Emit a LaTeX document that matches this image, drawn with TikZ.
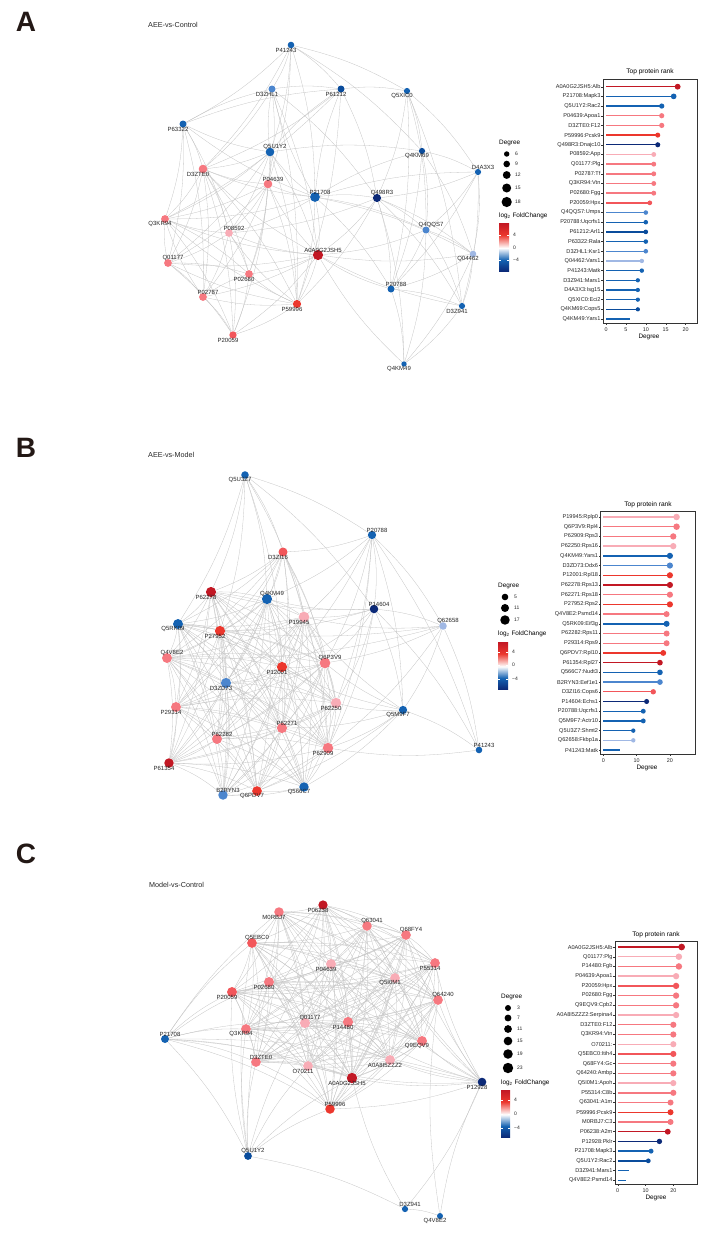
\documentclass[tikz,border=0pt]{standalone}
\usepackage{fontspec}
\setmainfont{Liberation Sans}
\usetikzlibrary{calc, %for label offsets
                backgrounds} %for links under the proteins
\pgfdeclarelayer{front}
\pgfsetlayers{background,main,front}

\definecolor{fcDR}{RGB}{194,24,36}
\definecolor{fcR}{RGB}{236,55,45}
\definecolor{fcRP}{RGB}{242,86,90}
\definecolor{fcP}{RGB}{246,120,128}
\definecolor{fcLP}{RGB}{248,172,182}
\definecolor{fcB}{RGB}{20,98,178}
\definecolor{fcDB}{RGB}{10,76,156}
\definecolor{fcNB}{RGB}{12,42,120}
\definecolor{fcMB}{RGB}{76,134,206}
\definecolor{fcLB}{RGB}{160,184,228}
\definecolor{linkgray}{RGB}{196,196,196}
\definecolor{ink}{RGB}{35,24,21}

% colour bar of log2 FoldChange
\pgfdeclareverticalshading{lfcbar}{100bp}{color(0bp)=(fcNB); color(25bp)=(fcNB); color(36.5bp)=(fcB);
  color(49bp)=(white); color(62.5bp)=(fcR); color(75bp)=(fcDR); color(100bp)=(fcDR)}

\begin{document}
\begin{tikzpicture}[x=1pt, y=1pt,
    prot/.style={circle, inner sep=0pt, draw=none},
    lab/.style={font=\fontsize{6}{7}\selectfont, text=black!85, inner sep=0pt},
    link/.style={draw=linkgray, line width=0.3pt, bend left=8},
    panel/.style={font=\fontsize{28}{28}\selectfont\bfseries, text=ink, inner sep=0pt},
    ptitle/.style={font=\fontsize{7.2}{8}\selectfont, text=black!85, anchor=west, inner sep=0pt},
    rktitle/.style={font=\fontsize{6.6}{7}\selectfont, inner sep=0pt},
    rkbox/.style={draw=black!80, line width=0.5pt},
    stem/.style={line width=1.4pt},
    rklab/.style={font=\fontsize{5.6}{6}\selectfont, text=black!85, anchor=east, inner sep=0pt},
    axlab/.style={font=\fontsize{5.4}{6}\selectfont, text=black!85, inner sep=0pt},
    axtitle/.style={font=\fontsize{6.4}{7}\selectfont, inner sep=0pt},
    lgtitle/.style={font=\fontsize{6.4}{7}\selectfont, anchor=west, inner sep=0pt},
    lgnum/.style={font=\fontsize{5}{6}\selectfont, text=black!85, anchor=west, inner sep=0pt}
    ]
    \useasboundingbox (0,0) rectangle (710,-1247);

    % ===== PANEL A =====
    \node[panel] (pA) at (26,-22) {A};
    \node[ptitle] (tA) at (148,-25) {AEE-vs-Control};

    \foreach \n/\x/\y/\d/\c/\s in {
        A0A0G2JSH5/318/255/18/fcDR/-1, P21708/315/197/17/fcB/-1, Q5U1Y2/270/152/14/fcB/-1,
        P04639/268/184/14/fcP/-1, D3ZTE0/203/169/14/fcP/1, P59996/297/304/13/fcR/1,
        Q498R3/377/198/13/fcNB/-1, P08592/229/233/12/fcLP/-1, Q01177/168/263/12/fcP/-1,
        P02787/203/297/12/fcP/-1, Q3KR94/165/219/12/fcP/1, P02680/249/274/12/fcP/1,
        P20059/233/335/11/fcRP/1, Q4QQS7/426/230/10/fcMB/-1, P20788/391/289/10/fcB/-1,
        P61212/341/89/10/fcDB/1, P63322/183/124/10/fcB/1, D3ZHL1/272/89/10/fcMB/1,
        Q04462/473/254/9/fcLB/1, P41243/291/45/9/fcB/1, D3Z941/462/306/8/fcB/1,
        D4A3X3/478/172/8/fcB/-1, Q5XIC0/407/91/8/fcB/1, Q4KM69/422/151/8/fcDB/1,
        Q4KM49/404/364/6/fcB/1}{
        \pgfmathsetmacro\nd{2*(2.7+(\d-6)*0.2)}
        \node[prot, fill=\c, minimum size=\nd pt] (A-\n) at (\x,-\y) {};
        \begin{pgfonlayer}{front}
        \node[lab] (A-\n-t) at ($(A-\n)+({-5*\s},{-5*\s})$) {\n};
        \end{pgfonlayer}
    }

    \begin{scope}[on background layer]
    \def\coreA{A0A0G2JSH5,P04639,D3ZTE0,P59996,P08592,Q01177,P02787,Q3KR94,P02680,P20059}
    \foreach \u [count=\i] in \coreA {\foreach \v [count=\j] in \coreA {
        \ifnum\j>\i\relax \draw[link] (A-\u) to (A-\v); \fi}}
    \foreach \u/\v in {
        P41243/D3ZHL1, P41243/P61212, P41243/Q5XIC0, P41243/P63322, P41243/Q5U1Y2, P41243/P21708,
        P41243/D3ZTE0, P41243/P04639, P41243/Q4KM69,
        P21708/D3ZHL1, P21708/P61212, P21708/Q5U1Y2, P21708/P63322, P21708/Q498R3, P21708/Q4QQS7,
        P21708/A0A0G2JSH5, P21708/P04639, P21708/P59996, P21708/D3ZTE0, P21708/Q3KR94, P21708/P08592,
        P21708/Q4KM69, P21708/D4A3X3, P21708/P20788, P21708/Q04462,
        Q5U1Y2/D3ZHL1, Q5U1Y2/P61212, Q5U1Y2/P63322, Q5U1Y2/D3ZTE0, Q5U1Y2/P04639, Q5U1Y2/Q3KR94,
        Q5U1Y2/P08592, Q5U1Y2/Q4KM69, Q5U1Y2/Q01177, Q5U1Y2/P02680, Q5U1Y2/A0A0G2JSH5, Q5U1Y2/P59996,
        P63322/D3ZHL1, P63322/D3ZTE0, P63322/Q3KR94, P63322/P02787, P63322/P08592, P63322/P61212,
        P63322/Q01177,
        D3ZHL1/P61212, D3ZHL1/D3ZTE0, D3ZHL1/P04639, D3ZHL1/P59996, D3ZHL1/Q498R3, D3ZHL1/A0A0G2JSH5,
        P61212/Q5XIC0, P61212/D3ZTE0, P61212/Q3KR94, P61212/P59996, P61212/Q498R3,
        Q5XIC0/Q4KM69, Q5XIC0/Q4QQS7, Q5XIC0/Q498R3, Q5XIC0/D4A3X3, Q5XIC0/P20788, Q5XIC0/D3Z941,
        Q4KM69/Q4QQS7, Q4KM69/D4A3X3, Q4KM69/Q04462, Q4KM69/P20788,
        D4A3X3/Q498R3, D4A3X3/Q4QQS7, D4A3X3/Q04462, D4A3X3/D3Z941, D4A3X3/P20788,
        Q498R3/Q4QQS7, Q498R3/Q04462, Q498R3/P20788, Q498R3/D3Z941, Q498R3/Q4KM49,
        Q498R3/A0A0G2JSH5, Q498R3/P59996, Q498R3/P08592,
        Q4QQS7/Q04462, Q4QQS7/P20788, Q4QQS7/D3Z941, Q4QQS7/Q4KM49, Q4QQS7/A0A0G2JSH5,
        Q04462/D3Z941, Q04462/P20788, Q04462/Q4KM49, Q04462/A0A0G2JSH5,
        P20788/D3Z941, P20788/Q4KM49, P20788/A0A0G2JSH5,
        D3Z941/Q4KM49, D3Z941/A0A0G2JSH5, Q4KM49/A0A0G2JSH5}{
        \draw[link] (A-\u) to (A-\v);
    }
    \end{scope}

    % legend A
    \node[lgtitle] (gA) at (499,-143) {Degree};
    \foreach \d/\yy in {6/154, 9/164, 12/175, 15/188, 18/202}{
        \fill (506.7,-\yy) circle ({2.7+(\d-6)*0.2});
        \node[lgnum] at (515,-\yy) {\d};
    }
    \node[lgtitle] (fA) at (499,-216) {log\textsubscript{2} FoldChange};
    \shade[shading=lfcbar] (499,-223) rectangle (509,-271);
    \foreach \v/\yy in {4/235, 0/248, −4/260}{
        \draw[white, line width=0.5pt] (499,-\yy) -- ++(2,0) (509,-\yy) -- ++(-2,0);
        \node[lgnum] at (513,-\yy) {\v};
    }

    % rank A
    \node[rktitle] (rkA) at (650,-72) {Top protein rank};
    \draw[rkbox] (603,-79) rectangle (697,-323.3);
    \foreach \n/\d/\c [count=\i] in {
        A0A0G2JSH5:Alb/18/fcDR, P21708:Mapk3/17/fcB, Q5U1Y2:Rac2/14/fcB, P04639:Apoa1/14/fcP,
        D3ZTE0:F12/14/fcP, P59996:Pcsk9/13/fcR, Q498R3:Dnajc10/13/fcNB, P08592:App/12/fcLP,
        Q01177:Plg/12/fcP, P02787:Tf/12/fcP, Q3KR94:Vtn/12/fcP, P02680:Fgg/12/fcP,
        P20059:Hpx/11/fcRP, Q4QQS7:Umps/10/fcMB, P20788:Uqcrfs1/10/fcB, P61212:Arl1/10/fcDB,
        P63322:Rala/10/fcB, D3ZHL1:Ksr1/10/fcMB, Q04462:Vars1/9/fcLB, P41243:Matk/9/fcB,
        D3Z941:Mars1/8/fcB, D4A3X3:Isg15/8/fcB, Q5XIC0:Eci2/8/fcB, Q4KM69:Cops5/8/fcDB,
        Q4KM49:Yars1/6/fcB}{
        \pgfmathsetmacro\yy{86.7+(\i-1)*9.68}
        \draw[stem, \c] (606,-\yy) -- ({606+3.98*\d},-\yy);
        \ifnum\d>6\relax \fill[\c] ({606+3.98*\d},-\yy) circle ({1.5+0.08*\d}); \fi
        \draw[black!80, line width=0.4pt] (601.3,-\yy) -- (603,-\yy);
        \node[rklab] (rA\i) at (600.6,-\yy) {\n};
    }
    \foreach \t in {0,5,...,20}{
        \draw[black!80, line width=0.4pt] ({606+3.98*\t},-323.3) -- ++(0,-1.8);
        \node[axlab] at ({606+3.98*\t},-330) {\t};
    }
    \node[axtitle] (dA) at (649,-337) {Degree};

    % ===== PANEL B =====
    \node[panel] (pB) at (26,-448) {B};
    \node[ptitle] (tB) at (148,-455) {AEE-vs-Model};

    \foreach \n/\x/\y/\d/\c/\s in {
        Q5U3Z7/245/475/9/fcB/1, P20788/372/535/12/fcB/-1, D3ZI16/283/552/15/fcRP/1,
        P62278/211/592/20/fcDR/1, Q4KM49/267/599/20/fcB/-1, P14604/374/609/13/fcNB/-1,
        P19945/304/617/22/fcLP/1, Q5RK09/178/624/19/fcB/1, P27952/220/631/20/fcR/1,
        Q62658/443/626/9/fcLB/-1, Q4V8E2/167/658/19/fcP/-1, Q6P3V9/325/663/22/fcP/-1,
        P12001/282/667/20/fcR/1, D3ZD73/226/683/20/fcMB/1, P29314/176/707/19/fcP/1,
        P62250/336/703/21/fcLP/1, Q5M9F7/403/710/12/fcB/1, P62271/282/728/20/fcP/-1,
        P62282/217/739/19/fcP/-1, P62909/328/748/21/fcP/1, P41243/479/750/5/fcB/-1,
        P61354/169/763/17/fcDR/1, Q566C7/304/787/17/fcB/1, Q6PDV7/257/791/18/fcR/1,
        B2RYN3/223/795/17/fcMB/-1}{
        \pgfmathsetmacro\nd{2*(3.3+(\d-5)*0.12)}
        \node[prot, fill=\c, minimum size=\nd pt] (B-\n) at (\x,-\y) {};
        \begin{pgfonlayer}{front}
        \node[lab] (B-\n-t) at ($(B-\n)+({-5*\s},{-5*\s})$) {\n};
        \end{pgfonlayer}
    }

    \begin{scope}[on background layer]
    \def\coreB{P62278,Q4KM49,P19945,Q5RK09,P27952,Q4V8E2,Q6P3V9,P12001,D3ZD73,P29314,
        P62250,P62271,P62282,P62909,P61354,Q566C7,Q6PDV7,B2RYN3}
    \foreach \u [count=\i] in \coreB {\foreach \v [count=\j] in \coreB {
        \ifnum\j>\i\relax \draw[link] (B-\u) to (B-\v); \fi}}
    \foreach \u/\v in {
        Q5U3Z7/D3ZI16, Q5U3Z7/P20788, Q5U3Z7/P14604, Q5U3Z7/P62278, Q5U3Z7/Q4KM49, Q5U3Z7/Q5RK09,
        Q5U3Z7/P27952, Q5U3Z7/P19945, Q5U3Z7/P12001,
        P20788/D3ZI16, P20788/P14604, P20788/Q62658, P20788/Q5M9F7, P20788/Q4KM49, P20788/P19945,
        P20788/Q6P3V9, P20788/P62250, P20788/P62909, P20788/P12001, P20788/P41243,
        D3ZI16/P62278, D3ZI16/Q4KM49, D3ZI16/P19945, D3ZI16/Q6P3V9, D3ZI16/P27952, D3ZI16/Q5RK09,
        D3ZI16/P12001, D3ZI16/P62250, D3ZI16/D3ZD73, D3ZI16/P62271, D3ZI16/P62909, D3ZI16/Q4V8E2,
        D3ZI16/P29314,
        P14604/Q62658, P14604/Q5M9F7, P14604/P19945, P14604/Q6P3V9, P14604/Q4KM49, P14604/P62250,
        P14604/P62909, P14604/P12001, P14604/P27952, P14604/P62278, P14604/P41243,
        Q62658/Q5M9F7, Q62658/P41243, Q62658/P19945, Q62658/Q6P3V9, Q62658/P62909, Q62658/Q4V8E2,
        Q62658/Q5RK09,
        Q5M9F7/P41243, Q5M9F7/P62250, Q5M9F7/Q6P3V9, Q5M9F7/P62909, Q5M9F7/Q566C7, Q5M9F7/P62271,
        Q5M9F7/P12001, Q5M9F7/P19945, Q5M9F7/Q6PDV7, P41243/P62909}{
        \draw[link] (B-\u) to (B-\v);
    }
    \end{scope}

    % legend B
    \node[lgtitle] (gB) at (498,-586) {Degree};
    \foreach \d/\yy in {5/597, 11/608, 17/620}{
        \fill (505,-\yy) circle ({3.3+(\d-5)*0.12});
        \node[lgnum] at (514,-\yy) {\d};
    }
    \node[lgtitle] (fB) at (498,-634) {log\textsubscript{2} FoldChange};
    \shade[shading=lfcbar] (498,-642) rectangle (508,-689);
    \foreach \v/\yy in {4/652, 0/665, −4/679}{
        \draw[white, line width=0.5pt] (498,-\yy) -- ++(2,0) (508,-\yy) -- ++(-2,0);
        \node[lgnum] at (512,-\yy) {\v};
    }

    % rank B
    \node[rktitle] (rkB) at (648,-505) {Top protein rank};
    \draw[rkbox] (600.7,-511.7) rectangle (695,-754.3);
    \foreach \n/\d/\c [count=\i] in {
        P19945:Rplp0/22/fcLP, Q6P3V9:Rpl4/22/fcP, P62909:Rps3/21/fcP, P62250:Rps16/21/fcLP,
        Q4KM49:Yars1/20/fcB, D3ZD73:Ddx6/20/fcMB, P12001:Rpl18/20/fcR, P62278:Rps13/20/fcDR,
        P62271:Rps18/20/fcP, P27952:Rps2/20/fcR, Q4V8E2:Psmd14/19/fcP, Q5RK09:Eif3g/19/fcB,
        P62282:Rps11/19/fcP, P29314:Rps9/19/fcP, Q6PDV7:Rpl10/18/fcR, P61354:Rpl27/17/fcDR,
        Q566C7:Nudt3/17/fcB, B2RYN3:Eef1e1/17/fcMB, D3ZI16:Cops6/15/fcRP, P14604:Echs1/13/fcNB,
        P20788:Uqcrfs1/12/fcB, Q5M9F7:Actr10/12/fcB, Q5U3Z7:Shmt2/9/fcB, Q62658:Fkbp1a/9/fcLB,
        P41243:Matk/5/fcB}{
        \pgfmathsetmacro\yy{517+(\i-1)*9.71}
        \draw[stem, \c] (603.3,-\yy) -- ({603.3+3.33*\d},-\yy);
        \ifnum\d>5\relax \fill[\c] ({603.3+3.33*\d},-\yy) circle ({1.5+0.08*\d}); \fi
        \draw[black!80, line width=0.4pt] (599,-\yy) -- (600.7,-\yy);
        \node[rklab] (rB\i) at (598.3,-\yy) {\n};
    }
    \foreach \t in {0,10,20}{
        \draw[black!80, line width=0.4pt] ({603.3+3.33*\t},-754.3) -- ++(0,-1.8);
        \node[axlab] at ({603.3+3.33*\t},-761) {\t};
    }
    \node[axtitle] (dB) at (647,-768) {Degree};

    % ===== PANEL C =====
    \node[panel] (pC) at (26,-854) {C};
    \node[ptitle] (tC) at (149,-885) {Model-vs-Control};

    \foreach \n/\x/\y/\d/\c/\s in {
        P06238/323/905/18/fcDR/1, M0RBJ7/279/912/19/fcP/1, Q63041/367/926/19/fcP/-1,
        Q68FY4/406/935/20/fcP/-1, Q5EBC0/252/943/20/fcRP/-1, P04639/331/964/21/fcLP/1,
        P55314/435/963/20/fcP/1, Q5I0M1/395/978/20/fcLP/1, P02680/269/982/21/fcP/1,
        P20059/232/992/21/fcRP/1, Q64240/438/1000/20/fcP/-1, Q01177/305/1023/22/fcLP/-1,
        P14480/348/1022/22/fcP/1, Q3KR94/246/1029/20/fcP/1, P21708/165/1039/12/fcB/-1,
        Q9EQV9/422/1041/21/fcP/1, D3ZTE0/256/1062/20/fcP/-1, A0A8I5ZZZ2/390/1060/21/fcLP/1,
        O70211/308/1066/20/fcLP/1, A0A0G2JSH5/352/1078/23/fcDR/1, P12928/482/1082/15/fcNB/1,
        P59996/330/1109/19/fcR/-1, Q5U1Y2/248/1156/11/fcDB/-1, D3Z941/405/1209/4/fcB/-1,
        Q4V8E2/440/1216/3/fcB/1}{
        \pgfmathsetmacro\nd{2*(3+(\d-3)*0.11)}
        \node[prot, fill=\c, minimum size=\nd pt] (C-\n) at (\x,-\y) {};
        \begin{pgfonlayer}{front}
        \node[lab] (C-\n-t) at ($(C-\n)+({-5*\s},{-5*\s})$) {\n};
        \end{pgfonlayer}
    }

    \begin{scope}[on background layer]
    \def\coreC{P06238,M0RBJ7,Q63041,Q68FY4,Q5EBC0,P04639,P55314,Q5I0M1,P02680,P20059,
        Q64240,Q01177,P14480,Q3KR94,Q9EQV9,D3ZTE0,A0A8I5ZZZ2,O70211,A0A0G2JSH5,P59996}
    \foreach \u [count=\i] in \coreC {\foreach \v [count=\j] in \coreC {
        \ifnum\j>\i\relax \draw[link] (C-\u) to (C-\v); \fi}}
    \foreach \u/\v in {
        P21708/P20059, P21708/Q5EBC0, P21708/P02680, P21708/Q3KR94, P21708/D3ZTE0, P21708/Q01177,
        P21708/M0RBJ7, P21708/P59996, P21708/A0A0G2JSH5, P21708/Q5U1Y2, P21708/P12928, P21708/O70211,
        P12928/Q68FY4, P12928/P55314, P12928/Q64240, P12928/Q9EQV9, P12928/A0A8I5ZZZ2,
        P12928/A0A0G2JSH5, P12928/P14480, P12928/Q5I0M1, P12928/Q63041, P12928/O70211,
        P12928/P59996, P12928/D3Z941, P12928/Q01177, P12928/P04639,
        Q5U1Y2/D3Z941, Q5U1Y2/P59996, Q5U1Y2/A0A0G2JSH5, Q5U1Y2/O70211, Q5U1Y2/D3ZTE0,
        Q5U1Y2/Q3KR94, Q5U1Y2/P20059, Q5U1Y2/P02680, Q5U1Y2/Q01177, Q5U1Y2/Q5EBC0,
        D3Z941/A0A0G2JSH5, D3Z941/Q4V8E2, Q4V8E2/P12928, Q4V8E2/Q64240}{
        \draw[link] (C-\u) to (C-\v);
    }
    \end{scope}

    % legend C
    \node[lgtitle] (gC) at (501,-997) {Degree};
    \foreach \d/\yy in {3/1008, 7/1018, 11/1029, 15/1041, 19/1054, 23/1068}{
        \fill (508,-\yy) circle ({3+(\d-3)*0.11});
        \node[lgnum] at (517,-\yy) {\d};
    }
    \node[lgtitle] (fC) at (501,-1083) {log\textsubscript{2} FoldChange};
    \shade[shading=lfcbar] (501,-1090) rectangle (510,-1137);
    \foreach \v/\yy in {4/1100, 0/1114, −4/1128}{
        \draw[white, line width=0.5pt] (501,-\yy) -- ++(2,0) (510,-\yy) -- ++(-2,0);
        \node[lgnum] at (514,-\yy) {\v};
    }

    % rank C
    \node[rktitle] (rkC) at (656,-935) {Top protein rank};
    \draw[rkbox] (615,-941) rectangle (697.7,-1184.3);
    \foreach \n/\d/\c [count=\i] in {
        A0A0G2JSH5:Alb/23/fcDR, Q01177:Plg/22/fcLP, P14480:Fgb/22/fcP, P04639:Apoa1/21/fcLP,
        P20059:Hpx/21/fcRP, P02680:Fgg/21/fcP, Q9EQV9:Cpb2/21/fcP, A0A8I5ZZZ2:Serpina4/21/fcLP,
        D3ZTE0:F12/20/fcP, Q3KR94:Vtn/20/fcP, O70211:/20/fcLP, Q5EBC0:Itih4/20/fcRP,
        Q68FY4:Gc/20/fcP, Q64240:Ambp/20/fcP, Q5I0M1:Apoh/20/fcLP, P55314:C8b/20/fcP,
        Q63041:A1m/19/fcP, P59996:Pcsk9/19/fcR, M0RBJ7:C3/19/fcP, P06238:A2m/18/fcDR,
        P12928:Pklr/15/fcNB, P21708:Mapk3/12/fcB, Q5U1Y2:Rac2/11/fcDB, D3Z941:Mars1/4/fcB,
        Q4V8E2:Psmd14/3/fcB}{
        \pgfmathsetmacro\yy{947+(\i-1)*9.72}
        \draw[stem, \c] (617.7,-\yy) -- ({617.7+2.78*\d},-\yy);
        \ifnum\d>4\relax \fill[\c] ({617.7+2.78*\d},-\yy) circle ({1.5+0.08*\d}); \fi
        \draw[black!80, line width=0.4pt] (613.3,-\yy) -- (615,-\yy);
        \node[rklab] (rC\i) at (612.6,-\yy) {\n};
    }
    \foreach \t in {0,10,20}{
        \draw[black!80, line width=0.4pt] ({617.7+2.78*\t},-1184.3) -- ++(0,-1.8);
        \node[axlab] at ({617.7+2.78*\t},-1191) {\t};
    }
    \node[axtitle] (dC) at (656,-1198) {Degree};

\end{tikzpicture}
\end{document}
